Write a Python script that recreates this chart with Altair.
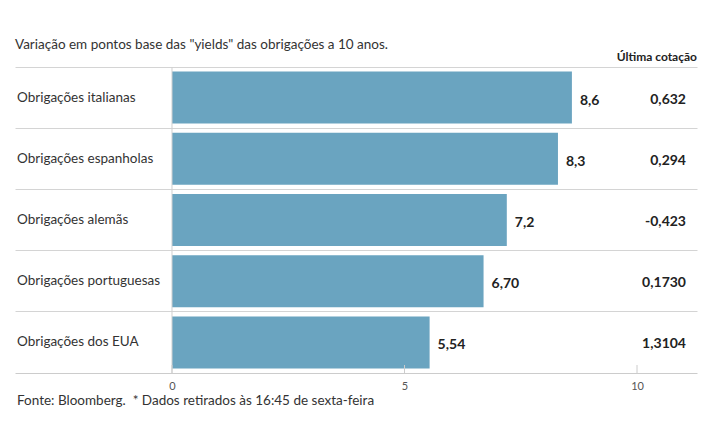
import altair as alt
import pandas as pd

categories = ["Obrigações italianas", "Obrigações espanholas", "Obrigações alemãs",
              "Obrigações portuguesas", "Obrigações dos EUA"]
values = [8.6, 8.3, 7.2, 6.70, 5.54]
value_labels = ["8,6", "8,3", "7,2", "6,70", "5,54"]
last_quote = ["0,632", "0,294", "-0,423", "0,1730", "1,3104"]
tick_values = [0, 5, 10]

title_text = 'Variação em pontos base das "yields" das obrigações a 10 anos.'
header_text = "Última cotação"
footer_text = "Fonte: Bloomberg.\u00a0 * Dados retirados às 16:45 de sexta-feira"

FONT = "Lato"
W, H = 682, 306

df = pd.DataFrame({"cat": categories, "val": values, "lab": value_labels, "quote": last_quote})
ticks_df = pd.DataFrame({"t": tick_values})

xscale = alt.Scale(domain=[-3.376, 11.29], nice=False, zero=False)
yscale = alt.Scale(domain=categories, paddingInner=0, paddingOuter=0)

xaxis = alt.Axis(values=tick_values, title=None, grid=False, ticks=False,
                 domain=True, domainColor="#cccccc", labelFontSize=11,
                 labelColor="#555555", labelFont=FONT, labelPadding=7)
yaxis = alt.Axis(title=None, labels=False, ticks=False, domain=False,
                 grid=True, gridColor="#d4d4d4", bandPosition=0)


def X(field):
    return alt.X(field, scale=xscale, axis=xaxis, title=None)


def Y():
    return alt.Y("cat:N", scale=yscale, sort=categories, axis=yaxis, title=None)


base = alt.Chart(df)

bars = base.mark_bar(height=52, color="#6aa4c0").encode(
    x=X("val:Q"), x2=alt.datum(0), y=Y(),
)

zero_line = alt.Chart(pd.DataFrame({"z": [0]})).mark_rule(color="#d0d0d0").encode(
    x=X("z:Q")
)

tick_marks = alt.Chart(ticks_df).mark_rule(color="#cccccc").encode(
    x=X("t:Q"), y=alt.value(H - 8), y2=alt.value(H),
)

cat_text = base.mark_text(align="left", baseline="middle", font=FONT, fontSize=13.5,
                          color="#333333").encode(
    x=alt.value(2), y=Y(), text="cat:N",
)

val_text = base.mark_text(align="left", baseline="middle", font=FONT, fontSize=14,
                          fontWeight="bold", color="#222222", dx=8, dy=3).encode(
    x=X("val:Q"), y=Y(), text="lab:N",
)

quote_text = base.mark_text(align="right", baseline="middle", font=FONT, fontSize=14,
                            fontWeight="bold", color="#222222", dy=2).encode(
    x=alt.value(W - 11), y=Y(), text="quote:N",
)

title = alt.Chart(pd.DataFrame({"t": [title_text]})).mark_text(
    align="left", baseline="middle", font=FONT, fontSize=13.5, color="#333333"
).encode(x=alt.value(0), y=alt.value(-22), text="t:N")

header = alt.Chart(pd.DataFrame({"t": [header_text]})).mark_text(
    align="right", baseline="middle", font=FONT, fontSize=12, fontWeight="bold", color="#222222"
).encode(x=alt.value(W), y=alt.value(-10), text="t:N")

footer = alt.Chart(pd.DataFrame({"t": [footer_text]})).mark_text(
    align="left", baseline="middle", font=FONT, fontSize=13.5, color="#333333"
).encode(x=alt.value(2), y=alt.value(H + 28), text="t:N")

chart = alt.layer(bars, zero_line, tick_marks, cat_text, val_text, quote_text,
                  title, header, footer).properties(
    width=W, height=H,
    autosize=alt.AutoSizeParams(type="none"),
    padding={"left": 15, "top": 67, "right": 18, "bottom": 72},
    background="white",
).configure_view(stroke=None)

chart.save("out.html", embed_options={"renderer": "svg", "actions": False})
